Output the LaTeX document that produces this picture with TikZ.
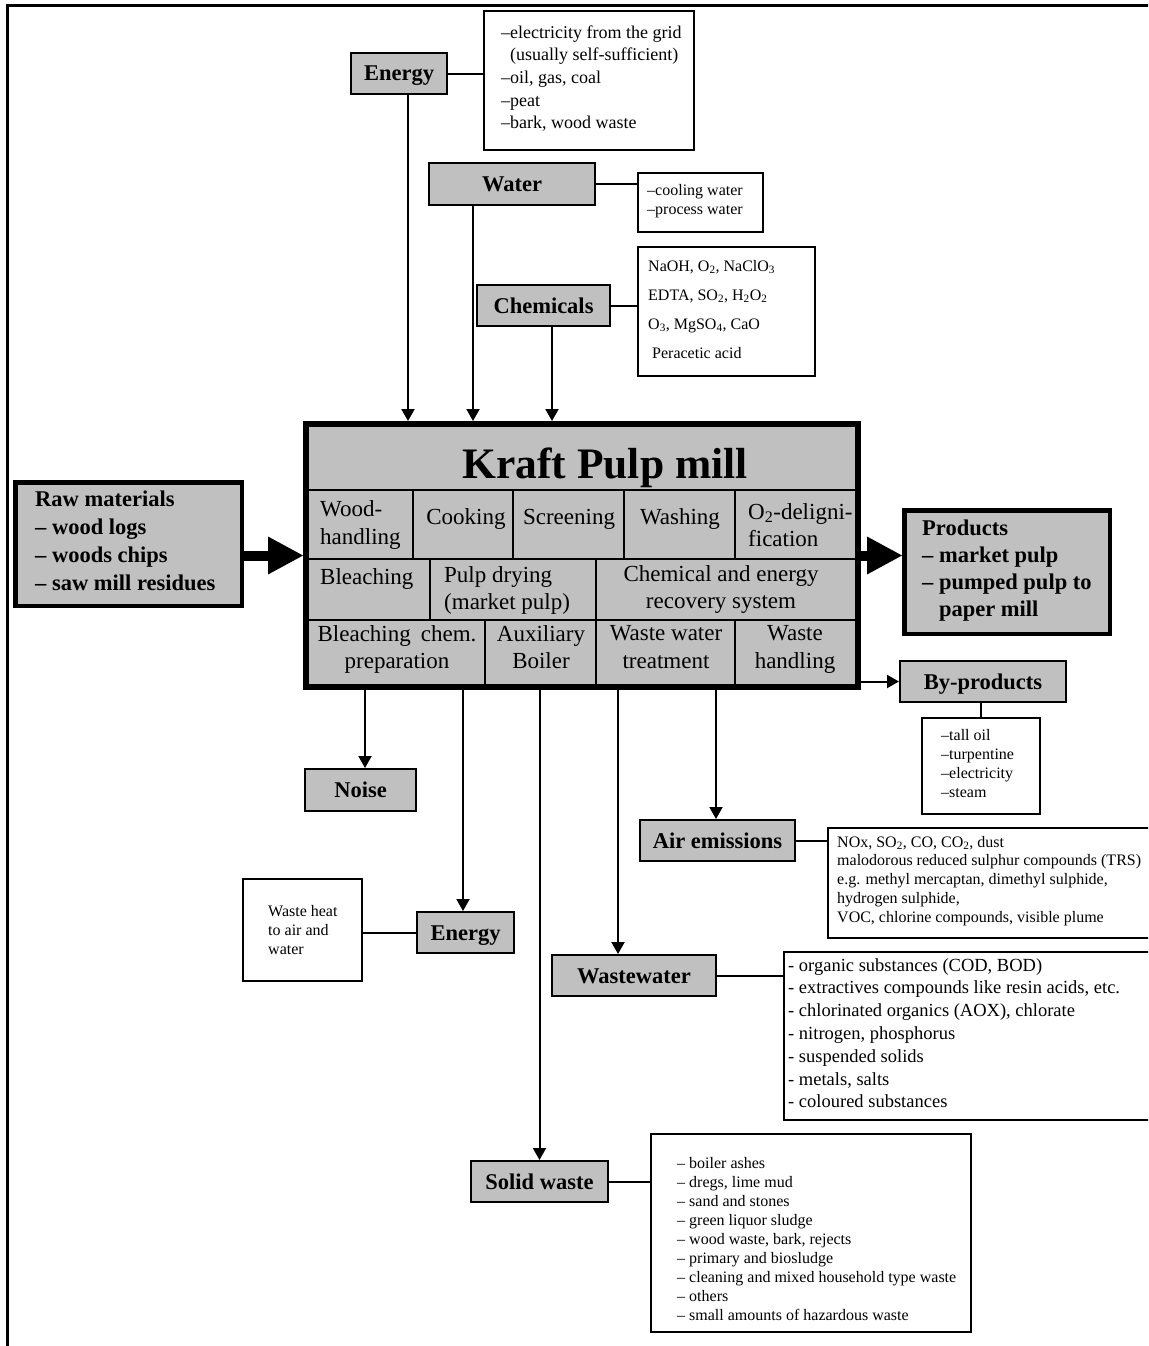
\documentclass[tikz,border=0pt]{standalone}
\usepackage{fontspec}
\setmainfont{Liberation Serif}
\usetikzlibrary{arrows.meta,calc}
\definecolor{boxgray}{HTML}{C0C0C0}
\newcommand\setfs[2]{\fontsize{#1}{#2}\selectfont}
\tikzset{
  gbox/.style={draw, line width=2pt, fill=boxgray, inner sep=0pt, text height=16pt, text depth=1pt, font=\setfs{22.5}{27}\bfseries},
  heavybox/.style={draw, line width=4.5pt, fill=boxgray, inner sep=0pt},
  wbox/.style={draw, line width=2pt, fill=white, inner sep=0pt},
  cellbox/.style={draw, line width=2pt, inner sep=0pt},
  txt/.style={inner sep=0pt, align=left, anchor=west, execute at begin node=\strut, execute at end node=\strut},
  ctxt/.style={inner sep=0pt, align=center, execute at begin node=\strut, execute at end node=\strut},
  celltxt/.style={font=\setfs{23}{27.5}},
  link/.style={line width=2pt},
  arr/.style={line width=2pt, -{Triangle[width=13pt,length=12pt]}},
  bigarr/.style={line width=10pt, -{Triangle[width=38pt,length=35pt,line width=0pt]}},
}
\begin{document}
\begin{tikzpicture}[x=1pt,y=-1pt]
\useasboundingbox (0,0) rectangle (1148,1346);
\clip (0,0) rectangle (1148,1346);
\draw[line width=3pt] (7,1360) -- (7,6) -- (1160,6);

% ---- inputs
\node[gbox, minimum width=96, minimum height=41] (e1) at (399,73.5) {Energy};
\node[wbox, minimum width=210, minimum height=139] (elist) at (589,80.5) {};
\node[txt, font=\setfs{18}{22.7}] (elistt) at (501,80.5) {–electricity from the grid\\\phantom{–}(usually self-sufficient)\\–oil, gas, coal\\–peat\\–bark, wood waste};

\node[gbox, minimum width=166, minimum height=42] (w) at (512,184) {Water};
\node[wbox, minimum width=125, minimum height=59] (wlist) at (700.5,202.5) {};
\node[txt, font=\setfs{16}{19}] (wlistt) at (647,202.5) {–cooling water\\–process water};

\node[gbox, minimum width=133, minimum height=41] (c) at (543.5,305.5) {Chemicals};
\node[wbox, minimum width=177, minimum height=129] (clist) at (726.5,311.5) {};
\node[txt, font=\setfs{16}{29}] (clistt) at (648,313.5) {NaOH, O\textsubscript{2}, NaClO\textsubscript{3}\\EDTA, SO\textsubscript{2}, H\textsubscript{2}O\textsubscript{2}\\O\textsubscript{3}, MgSO\textsubscript{4}, CaO\\\hspace*{4pt}Peracetic acid};

% ---- Kraft pulp mill
\node[draw, line width=6pt, fill=boxgray, minimum width=552, minimum height=263, inner sep=0pt] (kraft) at (582,555.5) {};
\node[anchor=base, inner sep=0pt, font=\setfs{43.5}{50}\bfseries] (title) at (605,478) {Kraft Pulp mill};

\node[cellbox, minimum width=107, minimum height=69] (c11) at (359.5,524.5) {};
\node[cellbox, minimum width=100, minimum height=69] (c12) at (463,524.5) {};
\node[cellbox, minimum width=111, minimum height=69] (c13) at (568.5,524.5) {};
\node[cellbox, minimum width=111, minimum height=69] (c14) at (679.5,524.5) {};
\node[cellbox, minimum width=123, minimum height=69] (c15) at (796.5,524.5) {};
\node[cellbox, minimum width=124, minimum height=61] (c21) at (368,589.5) {};
\node[cellbox, minimum width=166, minimum height=61] (c22) at (513,589.5) {};
\node[cellbox, minimum width=262, minimum height=61] (c23) at (727,589.5) {};
\node[cellbox, minimum width=179, minimum height=67] (c31) at (395.5,653.5) {};
\node[cellbox, minimum width=111, minimum height=67] (c32) at (540.5,653.5) {};
\node[cellbox, minimum width=139, minimum height=67] (c33) at (665.5,653.5) {};
\node[cellbox, minimum width=123, minimum height=67] (c34) at (796.5,653.5) {};

\node[txt, celltxt] (t11) at (320,526.5) {Wood-\\handling};
\node[ctxt, celltxt] (t12) at (466,518.5) {Cooking};
\node[ctxt, celltxt] (t13) at (569,518.5) {Screening};
\node[ctxt, celltxt] (t14) at (680,518.5) {Washing};
\node[txt, celltxt] (t15) at (748,529) {O\textsubscript{2}-deligni-\\fication};
\node[txt, celltxt] (t21) at (320,578.5) {Bleaching};
\node[txt, celltxt] (t22) at (444,592) {Pulp drying\\(market pulp)};
\node[ctxt, celltxt] (t23) at (721,591) {Chemical and energy\\recovery system};
\node[ctxt, celltxt] (t31) at (397,651) {Bleaching\hspace{10pt}chem.\\preparation};
\node[ctxt, celltxt] (t32) at (541,651) {Auxiliary\\Boiler};
\node[ctxt, celltxt] (t33) at (666,651) {Waste water\\treatment};
\node[ctxt, celltxt] (t34) at (795,651) {Waste\\handling};

% ---- raw materials and products
\node[heavybox, minimum width=226.5, minimum height=123.5] (raw) at (128.5,544) {};
\node[txt, font=\setfs{22.5}{28}\bfseries] (rawt) at (35,544.4) {Raw materials\\– wood logs\\– woods chips\\– saw mill residues};
\node[heavybox, minimum width=205.5, minimum height=123.5] (products) at (1007,572) {};
\node[txt, font=\setfs{22.5}{27}\bfseries] (productst) at (922,572) {Products\\– market pulp\\– pumped pulp to\\\phantom{–\ }paper mill};

\node[gbox, minimum width=166, minimum height=41] (byp) at (983,681.5) {By-products};
\node[wbox, minimum width=118, minimum height=96] (bplist) at (981,766) {};
\node[txt, font=\setfs{16}{19}] (bplistt) at (941,766.5) {–tall oil\\–turpentine\\–electricity\\–steam};

% ---- outputs
\node[gbox, minimum width=111, minimum height=42] (noise) at (360.5,790) {Noise};
\node[gbox, minimum width=155, minimum height=41] (air) at (717.5,840.5) {Air emissions};
\node[wbox, minimum width=336, minimum height=110] (airlist) at (996,883) {};
\node[txt, font=\setfs{16}{18.8}] (airlistt) at (837,882) {NOx, SO\textsubscript{2}, CO, CO\textsubscript{2}, dust\\malodorous reduced sulphur compounds (TRS)\\e.g. methyl mercaptan, dimethyl sulphide,\\hydrogen sulphide,\\VOC, chlorine compounds, visible plume};

\node[wbox, minimum width=119, minimum height=102] (wh) at (302.5,930) {};
\node[txt, font=\setfs{16}{19}] (wht) at (268,932.5) {Waste heat\\to air and\\water};
\node[gbox, minimum width=97, minimum height=41] (e2) at (465.5,932.5) {Energy};

\node[gbox, minimum width=164, minimum height=41] (ww) at (634,975.5) {Wastewater};
\node[wbox, minimum width=380, minimum height=168] (wwlist) at (974,1036) {};
\node[txt, font=\setfs{18.5}{22.8}] (wwlistt) at (788,1036.4) {- organic substances (COD, BOD)\\- extractives compounds like resin acids, etc.\\- chlorinated organics (AOX), chlorate\\- nitrogen, phosphorus\\- suspended solids\\- metals, salts\\- coloured substances};

\node[gbox, minimum width=137, minimum height=41] (sw) at (539.5,1181.5) {Solid waste};
\node[wbox, minimum width=320, minimum height=198] (swlist) at (811,1233) {};
\node[txt, font=\setfs{16}{19}] (swlistt) at (677,1242) {– boiler ashes\\– dregs, lime mud\\– sand and stones\\– green liquor sludge\\– wood waste, bark, rejects\\– primary and biosludge\\– cleaning and mixed household type waste\\– others\\– small amounts of hazardous waste};

% ---- links
\draw[link] (e1.east) -- (e1.east -| elist.west);
\draw[link] (w.east) -- (w.east -| wlist.west);
\draw[link] (c.east) -- (c.east -| clist.west);
\draw[link] (byp.south -| bplist.north) -- (bplist.north);
\draw[link] (air.east) -- (air.east -| airlist.west);
\draw[link] (e2.west -| wh.east) -- (e2.west);
\draw[link] (ww.east) -- (ww.east -| wwlist.west);
\draw[link] (sw.east) -- (sw.east -| swlist.west);

% ---- arrows
\draw[arr] ($(e1.south)+(9,0)$) -- ($(e1.south |- kraft.north)+(9,0)$);
\draw[arr] ($(w.south)+(-39,0)$) -- ($(w.south |- kraft.north)+(-39,0)$);
\draw[arr] ($(c.south)+(8.5,0)$) -- ($(c.south |- kraft.north)+(8.5,0)$);
\draw[arr] ($(noise.north |- kraft.south)+(4.5,0)$) -- ($(noise.north)+(4.5,0)$);
\draw[arr] ($(e2.north |- kraft.south)+(-2.5,0)$) -- ($(e2.north)+(-2.5,0)$);
\draw[arr] (sw.north |- kraft.south) -- (sw.north);
\draw[arr] ($(ww.north |- kraft.south)+(-16,0)$) -- ($(ww.north)+(-16,0)$);
\draw[arr] ($(air.north |- kraft.south)+(-1.5,0)$) -- ($(air.north)+(-1.5,0)$);
\draw[arr] (kraft.east |- byp.west) -- (byp.west);
\draw[bigarr] (kraft.west -| raw.east) -- (kraft.west);
\draw[bigarr] (kraft.east) -- (kraft.east -| products.west);
\end{tikzpicture}
\end{document}
